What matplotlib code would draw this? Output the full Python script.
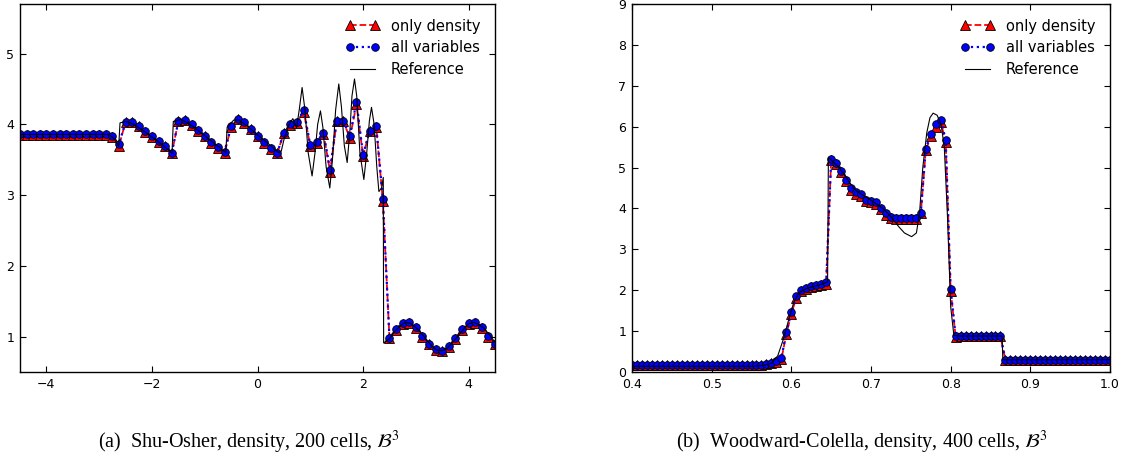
import numpy as np
import matplotlib.pyplot as plt

plt.rcParams["mathtext.fontset"] = "stix"

# Shu-Osher, 200 cells (markers on a 0.125 grid)
x_so = np.linspace(-4.5, 4.5, 73)
rho_so_all = [3.86, 3.86, 3.86, 3.86, 3.86, 3.86, 3.86, 3.86, 3.86, 3.86,
              3.86, 3.86, 3.86, 3.86, 3.83, 3.72, 4.03, 4.03, 3.98, 3.90,
              3.83, 3.76, 3.70, 3.60, 4.04, 4.06, 4.00, 3.92, 3.84, 3.75,
              3.68, 3.61, 3.97, 4.07, 4.03, 3.94, 3.84, 3.75, 3.66, 3.60,
              3.88, 4.00, 4.03, 4.20, 3.71, 3.75, 3.88, 3.36, 4.05, 4.05,
              3.83, 4.32, 3.57, 3.91, 3.97, 2.94, 0.98, 1.11, 1.19, 1.20,
              1.13, 1.01, 0.90, 0.82, 0.80, 0.87, 0.98, 1.11, 1.19, 1.20,
              1.13, 1.01, 0.90]
rho_so_dens = [3.85, 3.85, 3.85, 3.85, 3.85, 3.85, 3.85, 3.85, 3.85, 3.85,
               3.85, 3.85, 3.85, 3.85, 3.82, 3.70, 4.03, 4.03, 3.97, 3.89,
               3.82, 3.75, 3.69, 3.59, 4.04, 4.06, 3.99, 3.91, 3.83, 3.74,
               3.67, 3.60, 3.96, 4.07, 4.02, 3.93, 3.83, 3.74, 3.65, 3.59,
               3.88, 3.99, 4.02, 4.18, 3.69, 3.73, 3.87, 3.33, 4.04, 4.04,
               3.81, 4.28, 3.55, 3.90, 3.96, 2.92, 0.98, 1.10, 1.18, 1.19,
               1.12, 1.00, 0.89, 0.81, 0.79, 0.86, 0.97, 1.10, 1.18, 1.19,
               1.12, 1.00, 0.89]
x_so_ref = [-4.5, -2.82, -2.72, -2.63, -2.605, -2.5, -2.4, -2.2, -2.0, -1.8,
            -1.62, -1.595, -1.45, -1.3, -1.1, -0.9, -0.7, -0.6, -0.575, -0.45,
            -0.35, -0.2, 0.0, 0.2, 0.4, 0.45, 0.5, 0.6, 0.67, 0.74,
            0.79, 0.845, 0.9, 0.96, 1.034, 1.09, 1.14, 1.193, 1.24, 1.3,
            1.37, 1.42, 1.48, 1.54, 1.59, 1.645, 1.699, 1.75, 1.79, 1.838,
            1.88, 1.94, 2.015, 2.07, 2.12, 2.16, 2.21, 2.26, 2.3, 2.35,
            2.383, 2.39, 2.5, 2.6, 2.7, 2.8, 2.9, 3.0, 3.1, 3.2,
            3.3, 3.4, 3.5, 3.6, 3.7, 3.8, 3.9, 4.0, 4.1, 4.2,
            4.3, 4.4, 4.5]
rho_so_ref = [3.857, 3.857, 3.80, 3.69, 4.02, 4.04, 4.02, 3.93, 3.82, 3.71,
              3.59, 4.04, 4.07, 4.01, 3.90, 3.78, 3.66, 3.60, 3.96, 4.06,
              4.06, 3.98, 3.85, 3.73, 3.60, 3.62, 3.78, 4.00, 4.08, 3.95,
              4.20, 4.52, 4.20, 3.60, 3.27, 3.60, 4.00, 4.19, 3.95, 3.40,
              3.10, 3.50, 4.20, 4.57, 4.25, 3.70, 3.46, 3.90, 4.40, 4.64,
              4.40, 3.60, 3.22, 3.60, 4.05, 4.24, 4.00, 3.40, 3.05, 3.10,
              3.25, 0.91, 0.97, 1.07, 1.15, 1.20, 1.19, 1.13, 1.05, 0.96,
              0.87, 0.81, 0.80, 0.84, 0.92, 1.01, 1.10, 1.18, 1.20, 1.17,
              1.11, 1.02, 0.92]

# Woodward-Colella, 400 cells (markers on a 0.00625 grid)
x_wc = np.linspace(0.4, 1.0, 97)
rho_wc_all = [0.17, 0.17, 0.17, 0.17, 0.17, 0.17, 0.17, 0.17, 0.17, 0.17,
              0.17, 0.17, 0.17, 0.17, 0.17, 0.17, 0.17, 0.17, 0.17, 0.17,
              0.17, 0.17, 0.17, 0.17, 0.17, 0.17, 0.18, 0.20, 0.22, 0.26,
              0.34, 0.97, 1.46, 1.86, 2.00, 2.06, 2.10, 2.13, 2.15, 2.19,
              5.20, 5.11, 4.92, 4.70, 4.50, 4.40, 4.35, 4.20, 4.18, 4.15,
              4.00, 3.88, 3.79, 3.76, 3.76, 3.76, 3.76, 3.76, 3.90, 5.45,
              5.82, 6.07, 6.17, 5.68, 2.02, 0.87, 0.88, 0.88, 0.88, 0.88,
              0.88, 0.88, 0.88, 0.88, 0.88, 0.30, 0.30, 0.30, 0.30, 0.30,
              0.30, 0.30, 0.30, 0.30, 0.30, 0.30, 0.30, 0.30, 0.30, 0.30,
              0.30, 0.30, 0.30, 0.30, 0.30, 0.30, 0.30]
rho_wc_dens = [0.16, 0.16, 0.16, 0.16, 0.16, 0.16, 0.16, 0.16, 0.16, 0.16,
               0.16, 0.16, 0.16, 0.16, 0.16, 0.16, 0.16, 0.16, 0.16, 0.16,
               0.16, 0.16, 0.16, 0.16, 0.16, 0.16, 0.17, 0.19, 0.21, 0.24,
               0.31, 0.93, 1.42, 1.82, 1.98, 2.04, 2.08, 2.11, 2.13, 2.16,
               5.18, 5.08, 4.88, 4.66, 4.45, 4.36, 4.31, 4.17, 4.15, 4.12,
               3.98, 3.85, 3.77, 3.75, 3.75, 3.75, 3.75, 3.75, 3.88, 5.42,
               5.76, 6.00, 6.12, 5.62, 1.98, 0.86, 0.87, 0.87, 0.87, 0.87,
               0.87, 0.87, 0.87, 0.87, 0.87, 0.29, 0.29, 0.29, 0.29, 0.29,
               0.29, 0.29, 0.29, 0.29, 0.29, 0.29, 0.29, 0.29, 0.29, 0.29,
               0.29, 0.29, 0.29, 0.29, 0.29, 0.29, 0.29]
x_wc_ref = [0.4, 0.55, 0.565, 0.575, 0.583, 0.59, 0.597, 0.603, 0.61, 0.62,
            0.635, 0.6455, 0.6465, 0.66, 0.68, 0.70, 0.715, 0.725, 0.735, 0.742,
            0.751, 0.757, 0.761, 0.765, 0.770, 0.774, 0.778, 0.783, 0.788, 0.792,
            0.796, 0.800, 0.804, 0.81, 0.8645, 0.8655, 1.0]
rho_wc_ref = [0.14, 0.14, 0.16, 0.21, 0.40, 0.80, 1.30, 1.70, 1.95, 2.05,
              2.13, 2.20, 5.25, 5.00, 4.45, 4.20, 4.00, 3.80, 3.55, 3.40,
              3.31, 3.40, 3.90, 5.00, 5.85, 6.22, 6.33, 6.28, 6.05, 5.50,
              3.80, 1.60, 0.90, 0.88, 0.88, 0.30, 0.30]

panels = [
    dict(x=x_so, dens=rho_so_dens, allv=rho_so_all, xr=x_so_ref, yr=rho_so_ref,
         xlim=(-4.5, 4.5), ylim=(0.5, 5.7), yticks=[1, 2, 3, 4, 5],
         xticks=[-4, -2, 0, 2, 4], rect=[20 / 1125, 87 / 459, 475 / 1125, 368 / 459],
         caption=r"(a)  Shu-Osher, density, 200 cells, $\mathcal{B}^3$", cx=0.221),
    dict(x=x_wc, dens=rho_wc_dens, allv=rho_wc_all, xr=x_wc_ref, yr=rho_wc_ref,
         xlim=(0.4, 1.0), ylim=(0, 9), yticks=list(range(10)),
         xticks=[0.4, 0.5, 0.6, 0.7, 0.8, 0.9, 1.0],
         rect=[632 / 1125, 87 / 459, 478 / 1125, 368 / 459],
         caption=r"(b)  Woodward-Colella, density, 400 cells, $\mathcal{B}^3$", cx=0.766),
]

fig = plt.figure(figsize=(11.25, 4.59), dpi=100)
for p in panels:
    ax = fig.add_axes(p["rect"])
    ax.plot(p["x"], p["dens"], "r--^", lw=1.3, ms=6.5, mec="k", mew=0.6,
            label="only density")
    ax.plot(p["x"], p["allv"], "b:o", lw=1.6, ms=5.5, mec="k", mew=0.6,
            label="all variables")
    ax.plot(p["xr"], p["yr"], "k-", lw=0.8, label="Reference")
    ax.set_xlim(*p["xlim"])
    ax.set_ylim(*p["ylim"])
    ax.set_xticks(p["xticks"])
    ax.set_yticks(p["yticks"])
    ax.tick_params(direction="in", top=True, right=True, length=4, width=0.8,
                   labelsize=9, pad=4)
    for s in ax.spines.values():
        s.set_linewidth(1.0)
    ax.legend(loc="upper right", frameon=False, fontsize=10.5, numpoints=2,
              handlelength=2.3, labelspacing=0.45, borderaxespad=0.6)
    fig.text(p["cx"], 0.035, p["caption"], ha="center", va="center",
             fontsize=14.5, family="Liberation Serif")

fig.savefig("out.png", dpi=100)
